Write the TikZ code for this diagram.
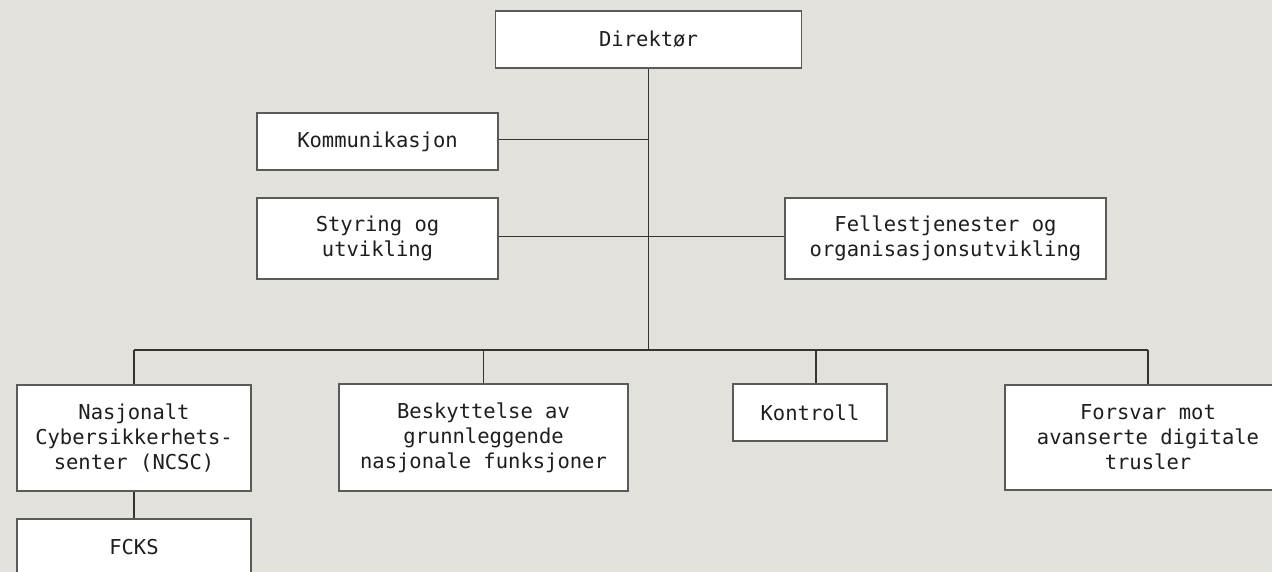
\documentclass[tikz,border=0pt]{standalone}
\usepackage{fontspec}
\setmonofont{DejaVu Sans Mono}
\definecolor{bg}{HTML}{E2E1DC}
\definecolor{boxline}{HTML}{5A5A5A}
\definecolor{conn}{HTML}{333333}
\definecolor{txt}{HTML}{1E1E1E}
\begin{document}
\begin{tikzpicture}[x=1bp,y=-1bp,
  orgbox/.style={draw=boxline, line width=1.3bp, fill=white, inner sep=0pt,
    align=center, text=txt,
    font=\fontsize{20.5bp}{25bp}\selectfont\ttfamily},
  link/.style={draw=conn, line width=1.1bp}]
\clip (0,0) rectangle (1272,572);
\fill[bg] (0,0) rectangle (1272,572);

\node[orgbox, minimum width=306bp, minimum height=57bp] (dir) at (648.5,39.5) {Direktør};
\node[orgbox, minimum width=241bp, minimum height=57bp] (kom) at (377.5,141.5) {Kommunikasjon};
\node[orgbox, minimum width=241bp, minimum height=81bp] (sty) at (377.5,238.5) {Styring og\\utvikling};
\node[orgbox, minimum width=321bp, minimum height=81bp] (fel) at (945.5,238.5) {Fellestjenester og\\organisasjonsutvikling};
\node[orgbox, minimum width=234bp, minimum height=106bp] (ncsc) at (134,438) {Nasjonalt\\Cybersikkerhets-\\senter (NCSC)};
\node[orgbox, minimum width=289bp, minimum height=107bp] (besk) at (483.5,437.5) {Beskyttelse av\\grunnleggende\\nasjonale funksjoner};
\node[orgbox, minimum width=154bp, minimum height=57bp] (kon) at (810,412.5) {Kontroll};
\node[orgbox, minimum width=286bp, minimum height=105bp] (for) at (1148,437.5) {Forsvar mot\\avanserte digitale\\trusler};
\node[orgbox, minimum width=234bp, minimum height=57bp] (fcks) at (134,547.5) {FCKS};

\coordinate (bus) at (649,350);

\draw[link] (dir.south) -- (dir.south |- bus);
\draw[link] ([yshift=2bp]kom.east) -- ([yshift=2bp]kom.east -| dir.south);
\draw[link] ([yshift=2bp]sty.east) -- ([yshift=2bp]fel.west);
\draw[link] (ncsc.north |- bus) -- (for.north |- bus);
\draw[link] (ncsc.north |- bus) -- (ncsc.north);
\draw[link] (besk.north |- bus) -- (besk.north);
\draw[link] ([xshift=6bp]kon.north |- bus) -- ([xshift=6bp]kon.north);
\draw[link] (for.north |- bus) -- (for.north);
\draw[link] (ncsc.south) -- (fcks.north);
\end{tikzpicture}
\end{document}
